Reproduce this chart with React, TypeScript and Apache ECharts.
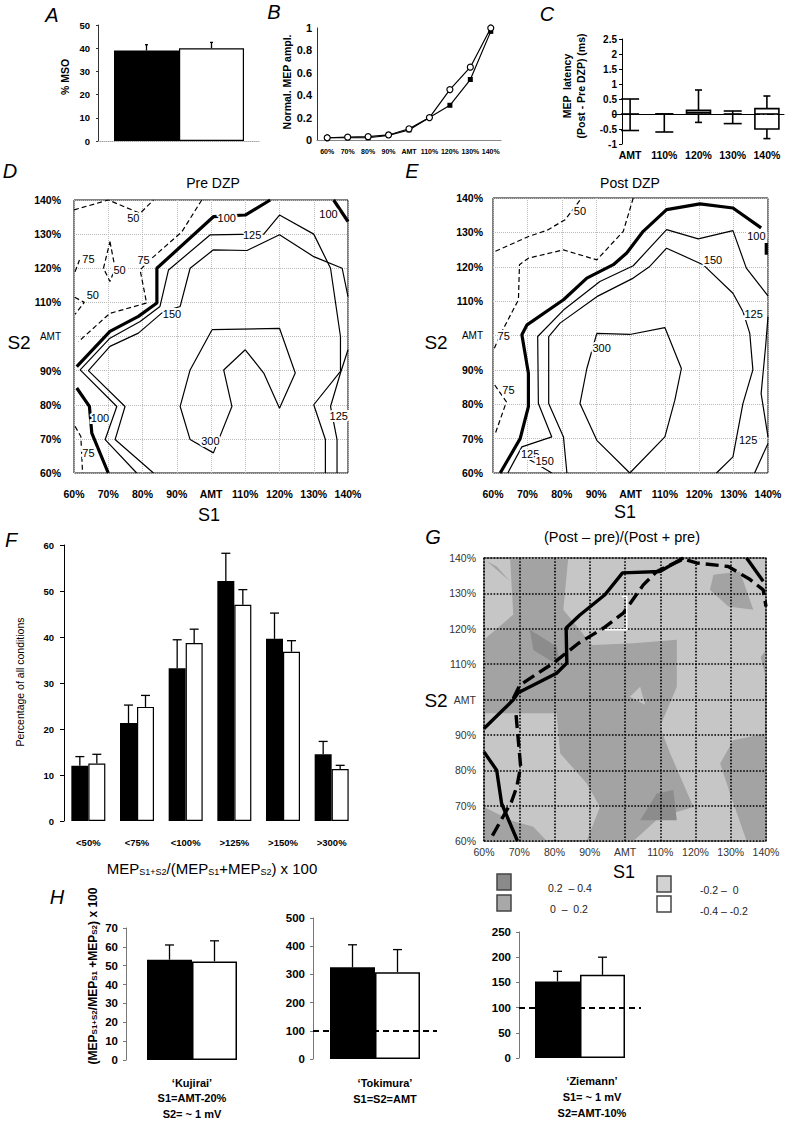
import React, { useEffect, useRef } from 'react';
import * as echarts from 'echarts';

const FONT = "'Liberation Sans', Arial, Helvetica, sans-serif";

// ---------- Panel A ----------
const msoValues = [39, 40];
const msoErrTops = [41.5, 42.5];

// ---------- Panel B ----------
const stimCats = ['60%', '70%', '80%', '90%', 'AMT', '110%', '120%', '130%', '140%'];
const mepPre = [0.02, 0.02, 0.02, 0.04, 0.09, 0.2, 0.31, 0.54, 0.97];
const mepPost = [0.02, 0.025, 0.03, 0.045, 0.1, 0.2, 0.45, 0.65, 1.0];

// ---------- Panel C ----------
const latCats = ['AMT', '110%', '120%', '130%', '140%'];
const latMin = [-0.55, -0.6, -0.28, -0.32, -0.82];
const latQ1 = [0, 0, 0, 0, -0.5];
const latMed = [0, 0, 0.05, 0, 0];
const latQ3 = [0, 0, 0.12, 0, 0.18];
const latMax = [0.5, 0, 0.8, 0.1, 0.6];

// ---------- Panel D (Pre DZP) contours, [S1 %, S2 %] ----------
const preThick100a = [[60.8, 91.2], [70.5, 101.5], [78.8, 105.9], [84.2, 109.8], [84.2, 120], [100.7, 135.1], [110, 135.6], [117.3, 140]];
const preThick100b = [[135.8, 140], [140, 133.7]];
const preThick100c = [[60.8, 84.9], [64.5, 79.5], [65.2, 71.7], [70, 60]];
const pre125 = [[78.3, 60], [69.1, 69.8], [72.5, 79.5], [61.8, 90.2], [70.5, 99.5], [79.3, 104.4], [85.1, 108.8], [87.6, 119.5], [99.8, 129.8], [115.4, 130], [120, 135.6], [130, 130], [134.9, 120], [137.8, 100], [137.8, 89.8], [130, 80], [133.4, 69.8], [133.4, 60]];
const pre150 = [[83.2, 60], [72, 69.8], [74.9, 79.5], [64.2, 90], [70.5, 97.1], [78.8, 101], [86.1, 107.3], [91, 108.8], [93.9, 120], [100.7, 125.4], [110.5, 125.2], [120, 129.8], [130, 123.4], [138.3, 120], [140, 111.7]];
const preRight = [[140, 96.1], [137.8, 89.3], [134.9, 79.5], [136.8, 69.8], [136.8, 60]];
const pre300 = [[100.3, 102], [120, 102.4], [124.6, 89.3], [120, 79], [115.4, 89.3], [110, 96.1], [103.7, 90.2], [106.1, 79.5], [100.7, 65.9], [93.9, 69.8], [91, 79.5], [93.9, 90.2], [100.3, 102]];
const preDash50a = [[60, 137.1], [70, 140], [79.3, 136.1], [83.2, 140]];
const preDash75a = [[97.3, 140], [91.5, 130.7], [82.7, 122.9], [79.3, 119.5], [81.2, 109.8], [70.5, 106.8], [61.3, 98.5]];
const preDash75b = [[60.3, 119], [61.6, 122.4]];
const preDash50b = [[70.5, 127.8], [72, 120], [70.5, 116.1], [68.6, 120], [70.5, 127.8]];
const preDash50c = [[60.2, 111.5], [63, 110], [60.3, 106.5]];
const preDash75c = [[60.3, 73.7], [62, 70.7], [62.5, 60]];
const preLabels = [[104.6, 134.6, '100'], [134.3, 136, '100'], [67.6, 76.1, '100'], [112, 129.8, '125'], [137.3, 76.6, '125'], [88.6, 106.6, '150'], [99.8, 69.3, '300'], [77.3, 134.6, '50'], [80.3, 122.4, '75'], [64.2, 122.6, '75'], [73.3, 119.5, '50'], [65.5, 112.2, '50'], [64.2, 65.9, '75']];

// ---------- Panel E (Post DZP) contours ----------
const postThick100a = [[62.1, 60], [67.9, 70], [70.3, 79.3], [70.3, 89], [68.4, 100.2], [69.9, 103.1], [80.5, 110.4], [87.3, 116.7], [95, 120.6], [98.9, 124], [103.7, 130.3], [110.5, 136.6], [120.2, 138.3], [129.8, 137.1], [138, 131.3]];
const postThick100b = [[139.5, 126.9], [139.5, 123.5]];
const post125 = [[64.3, 60], [68.4, 67.6], [77.1, 70.5], [73.2, 80.2], [73, 99.7], [80.5, 107.4], [91.1, 115.7], [100.8, 120.3], [110.5, 130.8], [119.7, 128.1], [129.8, 130.5], [133.7, 119.6], [140, 111.5]];
const post150a = [[69.5, 64.5], [71.8, 63.2], [77.1, 60]];
const post150 = [[81.5, 60], [80.5, 70.5], [76.2, 80.2], [76.2, 99.7], [79.5, 103.6], [90.2, 111.3], [100.8, 116.7], [105.6, 120.1], [110.5, 125.4], [121.1, 120.6], [129.8, 112.3], [132.7, 107], [134.7, 100.6], [135.6, 90], [132.7, 80.2], [129.8, 64.7], [125, 60]];
const postRight = [[140, 105.5], [139.3, 96.8], [138, 83.1], [140, 70.5]];
const postRight2 = [[140, 68.6], [136.1, 60]];
const post300 = [[90.2, 100.6], [99.8, 100.3], [110, 102.3], [114.8, 90.4], [112.9, 81.2], [110, 70.5], [99.8, 60], [90.2, 69.5], [85.3, 80.2], [87.3, 90.4], [90.2, 100.6]];
const postDash50 = [[60.7, 124.5], [70.3, 128.8], [75.7, 130.6], [81, 133.7], [85.8, 140]];
const postDash75a = [[100.8, 140], [97.9, 130.3], [90.2, 122], [80.5, 124.9], [70.3, 122.5], [67.7, 120.6], [67.4, 110.4], [62.1, 100.2], [60.4, 96.3]];
const postDash75b = [[60.5, 85.6], [63.9, 80.7], [60.5, 71]];
const postLabels = [[136.6, 129, '100'], [124, 122, '150'], [135.8, 106.3, '125'], [134.2, 69.5, '125'], [91.6, 96.3, '300'], [85.3, 136.1, '50'], [63.1, 99.9, '75'], [64.5, 84.1, '75'], [70.8, 65.5, '125'], [75, 63.4, '150']];

// ---------- Panel F ----------
const ratioCats = ['<50%', '<75%', '<100%', '>125%', '>150%', '>300%'];
const pctPre = [12, 21.3, 33.2, 52.2, 39.6, 14.5];
const pctPreErr = [14, 25.2, 39.4, 58.2, 45.2, 17.3];
const pctPost = [12.5, 24.8, 38.7, 47, 36.8, 11.3];
const pctPostErr = [14.5, 27.3, 41.7, 50.3, 39.2, 12.1];

// ---------- Panel G ----------
const gSolid1 = [[60, 91.8], [68.3, 99.9], [69.7, 101.9], [80.6, 107.4], [83.5, 110.3], [83.3, 120.2], [87.2, 123.9], [94.3, 129.6], [99.3, 135.8], [109.9, 136.2], [116.5, 140]];
const gSolid2 = [[60, 85.2], [63.6, 80], [65, 70.6], [69.5, 60]];
const gSolid3 = [[134.5, 140], [139.2, 133.4]];
const gDash1 = [[68.3, 100.3], [70.2, 104.1], [79.7, 110.3], [86.8, 115.9], [93.9, 120.2], [99.5, 124.4], [105.2, 132.4], [109, 136.2], [116.5, 139.7], [120.3, 138.6], [129.3, 137.6], [135.5, 133.9], [139.2, 131], [140, 126.3]];
const gDash2 = [[69.1, 95.6], [70.4, 81], [69.3, 75.3], [67.8, 71.1], [62.2, 61.2]];
const gWhiteEdge = [[99.1, 129.1], [100.5, 129.1], [100.5, 119.7], [94.3, 119.7]];
const gPolys = [
  [[67.4, 140], [83.9, 140], [82.5, 125.4], [91, 115], [89.1, 112.1], [81.6, 115], [74, 116.9], [68.3, 124]],
  [[60, 116.9], [68.3, 124], [81.6, 115], [102.4, 115.9], [114.7, 116.9], [114.7, 103.6], [109.9, 92.3], [112.8, 84.8], [119.4, 69.6], [109.9, 66.8], [102.4, 60], [89.1, 60], [92.9, 69.6], [89.1, 76.3], [81.6, 84.8], [80.6, 96.1], [60, 96.1]],
  [[127, 81.9], [130.7, 88.5], [140, 90.4], [140, 60], [134.5, 60], [129.8, 73.4]],
  [[125.1, 135.3], [132.6, 136.2], [136.4, 125.4], [129.3, 126.3], [124.1, 131]],
  [[60, 69.6], [67.4, 65.9], [74, 64], [77.8, 60], [60, 60]],
  [[60.8, 139.1], [67.4, 133.4], [63.6, 137.6]],
  [[138.5, 112], [140, 114], [140, 106]],
  [[101.4, 100.8], [104.3, 103.6], [105.7, 98.5]],
  [[104.3, 65.9], [109, 73.4], [113.7, 74.4], [114.7, 65.9]],
  [[73, 119.7], [80.6, 115], [81.6, 109.3], [74, 114]],
];
const gPolyLevels = [1, 1, 1, 1, 1, 1, 1, 0, 2, 2];
const gLegendTexts = ['0.2  \u2013 0.4', '0  \u2013  0.2', '-0.2 \u2013  0', '-0.4 \u2013 -0.2'];

// ---------- Panel H ----------
const kujiraiVals = [53.2, 52.3];
const kujiraiErr = [61, 63.2];
const tokimuraVals = [325, 308];
const tokimuraErr = [405, 388];
const ziemannVals = [152, 165];
const ziemannErr = [172, 200];

const LEVEL_COLORS = ['#c6c6c6', '#a3a3a3', '#8c8c8c'];

const pctFmt = (v: number) => (v === 100 ? 'AMT' : `${v}%`);

export default function App() {
  const ref = useRef<HTMLDivElement>(null);

  useEffect(() => {
    document.body.style.margin = '0';
    if (!ref.current) return;
    const chart = echarts.init(ref.current, undefined, { renderer: 'svg' });

    const bold = (size: number, extra: any = {}) => ({ fontFamily: FONT, fontWeight: 'bold', fontSize: size, color: '#000', ...extra });

    const errorSeries = (gi: number, rows: number[][], halfBar: number, cap: number, extra: any = {}) => ({
      type: 'custom', xAxisIndex: gi, yAxisIndex: gi, z: 4, silent: true, clip: false,
      data: rows,
      renderItem: (params: any, api: any) => {
        const base = api.coord([api.value(0), api.value(1)]);
        const top = api.coord([api.value(0), api.value(2)]);
        const x = base[0] + api.value(3) * halfBar;
        return {
          type: 'group', children: [
            { type: 'line', shape: { x1: x, y1: base[1], x2: x, y2: top[1] }, style: { stroke: '#000', lineWidth: 1.3 } },
            { type: 'line', shape: { x1: x - cap / 2, y1: top[1], x2: x + cap / 2, y2: top[1] }, style: { stroke: '#000', lineWidth: 1.3 } },
          ],
        };
      },
      ...extra,
    });

    const contour = (gi: number, pts: number[][], kind: string) => ({
      type: 'line', xAxisIndex: gi, yAxisIndex: gi, data: pts, symbol: 'none', silent: true, z: 5,
      lineStyle: kind === 'thick' ? { color: '#000', width: 3.2 }
        : kind === 'dash' ? { color: '#000', width: 1.2, type: [5, 3] }
        : kind === 'gsolid' ? { color: '#000', width: 3.4 }
        : kind === 'gdash' ? { color: '#000', width: 3.4, type: [13, 6] }
        : kind === 'white' ? { color: '#fff', width: 1.5 }
        : { color: '#000', width: 1.2 },
    });

    const labels = (gi: number, rows: any[]) => ({
      type: 'custom', xAxisIndex: gi, yAxisIndex: gi, z: 6, silent: true, clip: false,
      data: rows.map((r) => [r[0], r[1]]),
      renderItem: (params: any, api: any) => {
        const p = api.coord([api.value(0), api.value(1)]);
        return {
          type: 'text', x: p[0], y: p[1],
          style: { text: rows[params.dataIndex][2], fill: '#000', stroke: '#fff', lineWidth: 4, fontFamily: FONT, fontSize: 11, align: 'center', verticalAlign: 'middle' },
        };
      },
    });

    const mapAxis = (gi: number, isX: boolean, opts: any) => ({
      gridIndex: gi, type: 'value', min: 60, max: 140, interval: 10,
      axisLine: { show: false }, axisTick: { show: false },
      splitLine: { show: true, lineStyle: { color: '#bbb', type: 'dotted', width: 1 } },
      axisLabel: { showMinLabel: true, showMaxLabel: true, formatter: pctFmt, ...bold(10.5), ...opts },
    });

    const t = (x: number, y: number, text: string, o: any = {}) => ({
      type: 'text', x, y, silent: true,
      style: { text, fontFamily: FONT, fontSize: 12, fill: '#000', align: 'center', verticalAlign: 'middle', textAlign: 'center', textVerticalAlign: 'middle', ...o },
    });

    const subRich = (size: number, sub: number, weight: string) => ({
      m: { fontFamily: FONT, fontSize: size, fontWeight: weight, fill: '#000', color: '#000', lineHeight: size + 3, verticalAlign: 'bottom' },
      s: { fontFamily: FONT, fontSize: sub, fontWeight: weight, fill: '#000', color: '#000', lineHeight: 5, verticalAlign: 'bottom' },
    });

    const swatch = (x: number, y: number, fill: string) => ({
      type: 'rect', silent: true, shape: { x, y, width: 14, height: 16 }, style: { fill, stroke: '#444', lineWidth: 1.5 },
    });

    const option: any = {
      animation: false,
      grid: [
        { left: 98, top: 25, width: 162, height: 116 },
        { left: 317, top: 28, width: 184, height: 112 },
        { left: 613, top: 39, width: 171, height: 105 },
        { left: 74, top: 200, width: 274, height: 273, show: true, borderColor: '#000', borderWidth: 1, backgroundColor: 'transparent' },
        { left: 493, top: 198, width: 275, height: 275, show: true, borderColor: '#000', borderWidth: 1, backgroundColor: 'transparent' },
        { left: 64, top: 545, width: 292, height: 276 },
        { left: 484, top: 558, width: 282, height: 283, show: true, borderColor: '#666', borderWidth: 1.5, backgroundColor: LEVEL_COLORS[0] },
        { left: 126, top: 928, width: 132, height: 132 },
        { left: 313, top: 918, width: 124, height: 141 },
        { left: 519, top: 932, width: 122, height: 126 },
      ],
      xAxis: [
        { gridIndex: 0, type: 'category', data: [''], axisLine: { lineStyle: { color: '#aaa', type: 'dotted' } }, axisTick: { show: false }, axisLabel: { show: false } },
        { gridIndex: 1, type: 'category', data: stimCats, axisLine: { lineStyle: { color: '#888' } }, axisTick: { show: false }, axisLabel: { interval: 0, margin: 8, ...bold(7) } },
        { gridIndex: 2, type: 'category', data: latCats, axisLine: { lineStyle: { color: '#000' } }, axisTick: { show: false }, axisLabel: { interval: 0, margin: 5, ...bold(10.5) } },
        mapAxis(3, true, { margin: 15 }),
        mapAxis(4, true, { margin: 15 }),
        { gridIndex: 5, type: 'category', data: ratioCats, axisLine: { show: false }, axisTick: { show: false }, axisLabel: { interval: 0, margin: 16, ...bold(9.5) } },
        { ...mapAxis(6, true, { margin: 5 }), z: 3, splitLine: { show: true, lineStyle: { color: '#000', type: 'dotted', width: 1.6 } }, axisLabel: { showMinLabel: true, showMaxLabel: true, formatter: pctFmt, fontFamily: FONT, fontSize: 10.5, color: '#333', margin: 5 } },
        { gridIndex: 7, type: 'category', data: [''], axisLine: { show: false }, axisTick: { show: false }, axisLabel: { show: false } },
        { gridIndex: 8, type: 'category', data: [''], axisLine: { show: false }, axisTick: { show: false }, axisLabel: { show: false } },
        { gridIndex: 9, type: 'category', data: [''], axisLine: { show: false }, axisTick: { show: false }, axisLabel: { show: false } },
      ],
      yAxis: [
        { gridIndex: 0, type: 'value', min: 0, max: 50, interval: 10, splitLine: { show: false }, axisLine: { show: true, lineStyle: { color: '#333' } }, axisTick: { show: true, length: 2, lineStyle: { color: '#333' } }, axisLabel: { margin: 8, ...bold(9.5) } },
        { gridIndex: 1, type: 'value', min: 0, max: 1, interval: 0.2, splitLine: { show: false }, axisLine: { show: true, lineStyle: { color: '#333' } }, axisTick: { show: false }, axisLabel: { margin: 5, formatter: (v: number) => String(Math.round(v * 10) / 10), ...bold(11) } },
        { gridIndex: 2, type: 'value', min: -1, max: 2.5, interval: 0.5, offset: -9, splitLine: { show: false }, axisLine: { show: true, lineStyle: { color: '#000' } }, axisTick: { show: true, length: 3, lineStyle: { color: '#000' } }, axisLabel: { margin: 5, ...bold(10) } },
        mapAxis(3, false, { margin: 13, formatter: (v: number) => (v === 100 ? '{a|AMT}' : `${v}%`), rich: { a: { fontFamily: FONT, fontSize: 10, fontWeight: 'normal', color: '#000' } } }),
        mapAxis(4, false, { margin: 10, formatter: (v: number) => (v === 100 ? '{a|AMT}' : `${v}%`), rich: { a: { fontFamily: FONT, fontSize: 10, fontWeight: 'normal', color: '#000' } } }),
        { gridIndex: 5, type: 'value', min: 0, max: 60, interval: 10, splitLine: { show: false }, axisLine: { show: true, lineStyle: { color: '#000' } }, axisTick: { show: true, length: 4, lineStyle: { color: '#000' } }, axisLabel: { margin: 10, ...bold(9.5) } },
        { ...mapAxis(6, false, {}), z: 3, splitLine: { show: true, lineStyle: { color: '#000', type: 'dotted', width: 1.6 } }, axisLabel: { showMinLabel: true, showMaxLabel: true, formatter: pctFmt, fontFamily: FONT, fontSize: 10.5, color: '#333', margin: 8 } },
        { gridIndex: 7, type: 'value', min: 0, max: 70, interval: 10, splitLine: { show: false }, axisLine: { show: true, lineStyle: { color: '#777' } }, axisTick: { show: true, length: 3, lineStyle: { color: '#777' } }, axisLabel: { margin: 8, ...bold(11.5) } },
        { gridIndex: 8, type: 'value', min: 0, max: 500, interval: 100, splitLine: { show: false }, axisLine: { show: true, lineStyle: { color: '#777' } }, axisTick: { show: true, length: 3, lineStyle: { color: '#777' } }, axisLabel: { margin: 8, ...bold(11.5) } },
        { gridIndex: 9, type: 'value', min: 0, max: 250, interval: 50, splitLine: { show: false }, axisLine: { show: true, lineStyle: { color: '#777' } }, axisTick: { show: true, length: 3, lineStyle: { color: '#777' } }, axisLabel: { margin: 8, ...bold(11.5) } },
      ],
      series: [] as any[],
      graphic: [] as any[],
    };

    const S = option.series;

    // A
    S.push({ type: 'bar', xAxisIndex: 0, yAxisIndex: 0, data: [msoValues[0]], barWidth: 65, barGap: '0%', itemStyle: { color: '#000' } });
    S.push({ type: 'bar', xAxisIndex: 0, yAxisIndex: 0, data: [msoValues[1]], barWidth: 65, barGap: '0%', itemStyle: { color: '#fff', borderColor: '#000', borderWidth: 1.2 } });
    S.push(errorSeries(0, [[0, msoValues[0], msoErrTops[0], -0.5], [0, msoValues[1], msoErrTops[1], 0.5]], 65, 3));

    // B
    S.push({ type: 'line', xAxisIndex: 1, yAxisIndex: 1, data: mepPre, symbol: 'rect', symbolSize: 5, lineStyle: { color: '#000', width: 1.2 }, itemStyle: { color: '#000' } });
    S.push({ type: 'line', xAxisIndex: 1, yAxisIndex: 1, data: mepPost, symbol: 'circle', symbolSize: 6, lineStyle: { color: '#000', width: 1.2 }, itemStyle: { color: '#fff', borderColor: '#000', borderWidth: 1.2 } });

    // C
    S.push({
      type: 'custom', xAxisIndex: 2, yAxisIndex: 2, z: 4, silent: true,
      data: latCats.map((_, i) => [i, latMin[i], latQ1[i], latMed[i], latQ3[i], latMax[i]]),
      renderItem: (params: any, api: any) => {
        const i = api.value(0);
        const pMin = api.coord([i, api.value(1)]);
        const cx = pMin[0];
        const yMin = pMin[1];
        const yQ1 = api.coord([i, api.value(2)])[1];
        const yMed = api.coord([i, api.value(3)])[1];
        const yQ3 = api.coord([i, api.value(4)])[1];
        const yMax = api.coord([i, api.value(5)])[1];
        const hasBox = api.value(4) - api.value(2) > 0;
        const cap = hasBox ? 7 : 18;
        const st = { stroke: '#000', lineWidth: 1.6, fill: 'none' };
        const ch: any[] = [
          { type: 'line', shape: { x1: cx, y1: yMin, x2: cx, y2: yMax }, style: st },
          { type: 'line', shape: { x1: cx - cap / 2, y1: yMin, x2: cx + cap / 2, y2: yMin }, style: st },
          { type: 'line', shape: { x1: cx - cap / 2, y1: yMax, x2: cx + cap / 2, y2: yMax }, style: st },
        ];
        if (hasBox) {
          ch.push({ type: 'rect', shape: { x: cx - 12, y: yQ3, width: 24, height: yQ1 - yQ3 }, style: { stroke: '#000', lineWidth: 1.6, fill: '#fff' } });
          ch.push({ type: 'line', shape: { x1: cx - 12, y1: yMed, x2: cx + 12, y2: yMed }, style: st });
        } else {
          ch.push({ type: 'line', shape: { x1: cx - cap / 2, y1: yMed, x2: cx + cap / 2, y2: yMed }, style: st });
        }
        return { type: 'group', children: ch };
      },
      markLine: { silent: true, symbol: 'none', label: { show: false }, data: [{ yAxis: 0 }], lineStyle: { color: '#000', width: 1.2, type: [7, 3, 1, 3] } },
    });

    // D
    [preThick100a, preThick100b, preThick100c].forEach((p) => S.push(contour(3, p, 'thick')));
    [pre125, pre150, preRight, pre300].forEach((p) => S.push(contour(3, p, 'thin')));
    [preDash50a, preDash75a, preDash75b, preDash50b, preDash50c, preDash75c].forEach((p) => S.push(contour(3, p, 'dash')));
    S.push(labels(3, preLabels));

    // E
    [postThick100a, postThick100b].forEach((p) => S.push(contour(4, p, 'thick')));
    [post125, post150a, post150, postRight, postRight2, post300].forEach((p) => S.push(contour(4, p, 'thin')));
    [postDash50, postDash75a, postDash75b].forEach((p) => S.push(contour(4, p, 'dash')));
    S.push(labels(4, postLabels));

    // F
    S.push({ type: 'bar', xAxisIndex: 5, yAxisIndex: 5, data: pctPre, barWidth: 17, barGap: '0%', itemStyle: { color: '#000' } });
    S.push({ type: 'bar', xAxisIndex: 5, yAxisIndex: 5, data: pctPost, barWidth: 17, barGap: '0%', itemStyle: { color: '#fff', borderColor: '#000', borderWidth: 1.2 } });
    S.push(errorSeries(5, pctPre.map((v, i) => [i, v, pctPreErr[i], -0.5]), 17, 9));
    S.push(errorSeries(5, pctPost.map((v, i) => [i, v, pctPostErr[i], 0.5]), 17, 9));

    // G
    S.push({
      type: 'custom', xAxisIndex: 6, yAxisIndex: 6, z: 1, silent: true, clip: true,
      data: gPolys.map((p, i) => [p[0][0], p[0][1], i]),
      renderItem: (params: any, api: any) => {
        const poly = gPolys[params.dataIndex];
        const pts = poly.map((pt) => api.coord(pt));
        return { type: 'polygon', shape: { points: pts }, style: { fill: LEVEL_COLORS[gPolyLevels[params.dataIndex]] } };
      },
    });
    [gSolid1, gSolid2, gSolid3].forEach((p) => S.push(contour(6, p, 'gsolid')));
    [gDash1, gDash2].forEach((p) => S.push(contour(6, p, 'gdash')));
    S.push(contour(6, gWhiteEdge, 'white'));

    // H
    const hBars = (gi: number, vals: number[], errs: number[], dashed: boolean) => {
      S.push({ type: 'bar', xAxisIndex: gi, yAxisIndex: gi, data: [vals[0]], barWidth: 45, barGap: '0%', itemStyle: { color: '#000' } });
      S.push({ type: 'bar', xAxisIndex: gi, yAxisIndex: gi, data: [vals[1]], barWidth: 45, barGap: '0%', itemStyle: { color: '#fff', borderColor: '#000', borderWidth: 1.5 } });
      S.push(errorSeries(gi, [[0, vals[0], errs[0], -0.5], [0, vals[1], errs[1], 0.5]], 45, 9,
        dashed ? { markLine: { silent: true, symbol: 'none', label: { show: false }, data: [{ yAxis: 100 }], lineStyle: { color: '#000', width: 2, type: [6, 4] } } } : {}));
    };
    hBars(7, kujiraiVals, kujiraiErr, false);
    hBars(8, tokimuraVals, tokimuraErr, true);
    hBars(9, ziemannVals, ziemannErr, true);

    // Graphics
    const G = option.graphic;
    const letter = (x: number, y: number, s: string) => t(x, y, s, { fontSize: 20, fontStyle: 'italic' });
    G.push(letter(52, 15, 'A'), letter(274, 12, 'B'), letter(547, 14, 'C'), letter(10, 171, 'D'), letter(412, 171, 'E'), letter(11, 540, 'F'), letter(433, 537, 'G'), letter(57, 897, 'H'));
    G.push({ ...t(65, 77, '% MSO', { fontSize: 10.5, fontWeight: 'bold' }), rotation: Math.PI / 2 });
    G.push({ ...t(287, 82, 'Normal. MEP ampl.', { fontSize: 10.5, fontWeight: 'bold' }), rotation: Math.PI / 2 });
    G.push({ ...t(567, 86, 'MEP  latency', { fontSize: 10.5, fontWeight: 'bold' }), rotation: Math.PI / 2 });
    G.push({ ...t(581, 86, '(Post - Pre DZP) (ms)', { fontSize: 10.5, fontWeight: 'bold' }), rotation: Math.PI / 2 });
    G.push(t(213, 183, 'Pre DZP', { fontSize: 14 }));
    G.push(t(630, 183, 'Post DZP', { fontSize: 14 }));
    G.push(t(19, 342, 'S2', { fontSize: 19 }));
    G.push(t(436, 342, 'S2', { fontSize: 19 }));
    G.push(t(209, 515, 'S1', { fontSize: 18 }));
    G.push(t(625, 512, 'S1', { fontSize: 18 }));
    G.push(t(622, 537, '(Post \u2013 pre)/(Post + pre)', { fontSize: 14.5 }));
    G.push(t(436, 700, 'S2', { fontSize: 19 }));
    G.push(t(624, 872, 'S1', { fontSize: 18 }));
    G.push({ ...t(20, 682, 'Percentage of all conditions', { fontSize: 10.5 }), rotation: Math.PI / 2 });
    G.push(t(212, 867, '{m|MEP}{s|S1+S2}{m|/(MEP}{s|S1}{m|+MEP}{s|S2}{m|) x 100}', { rich: subRich(15, 9, 'normal') }));
    // G legend
    G.push(swatch(497, 874, '#8a8a8a'), swatch(497, 895, '#a8a8a8'), swatch(657, 876, '#d2d2d2'), swatch(657, 896, '#ffffff'));
    G.push(t(548, 888, gLegendTexts[0], { fontSize: 10.5, align: 'left', textAlign: 'left', fill: '#222' }));
    G.push(t(550, 909, gLegendTexts[1], { fontSize: 10.5, align: 'left', textAlign: 'left', fill: '#222' }));
    G.push(t(700, 890, gLegendTexts[2], { fontSize: 10.5, align: 'left', textAlign: 'left', fill: '#222' }));
    G.push(t(700, 911, gLegendTexts[3], { fontSize: 10.5, align: 'left', textAlign: 'left', fill: '#222' }));
    // H
    G.push({ ...t(91, 976, '{m|(MEP}{s|S1+S2}{m|/MEP}{s|S1}{m| +MEP}{s|S2}{m|) x 100}', { rich: subRich(12, 8, 'bold') }), rotation: Math.PI / 2 });
    G.push(t(192, 1098, '\u2018Kujirai\u2019\nS1=AMT-20%\nS2= ~ 1 mV', { fontSize: 11, fontWeight: 'bold', lineHeight: 15.5 }));
    G.push(t(385, 1091, '\u2018Tokimura\u2019\nS1=S2=AMT', { fontSize: 11, fontWeight: 'bold', lineHeight: 15.5 }));
    G.push(t(592, 1097, '\u2018Ziemann\u2019\nS1= ~ 1 mV\nS2=AMT-10%', { fontSize: 11, fontWeight: 'bold', lineHeight: 16 }));

    chart.setOption(option);
    return () => chart.dispose();
  }, []);

  return <div ref={ref} style={{ width: 796, height: 1131 }} />;
}
